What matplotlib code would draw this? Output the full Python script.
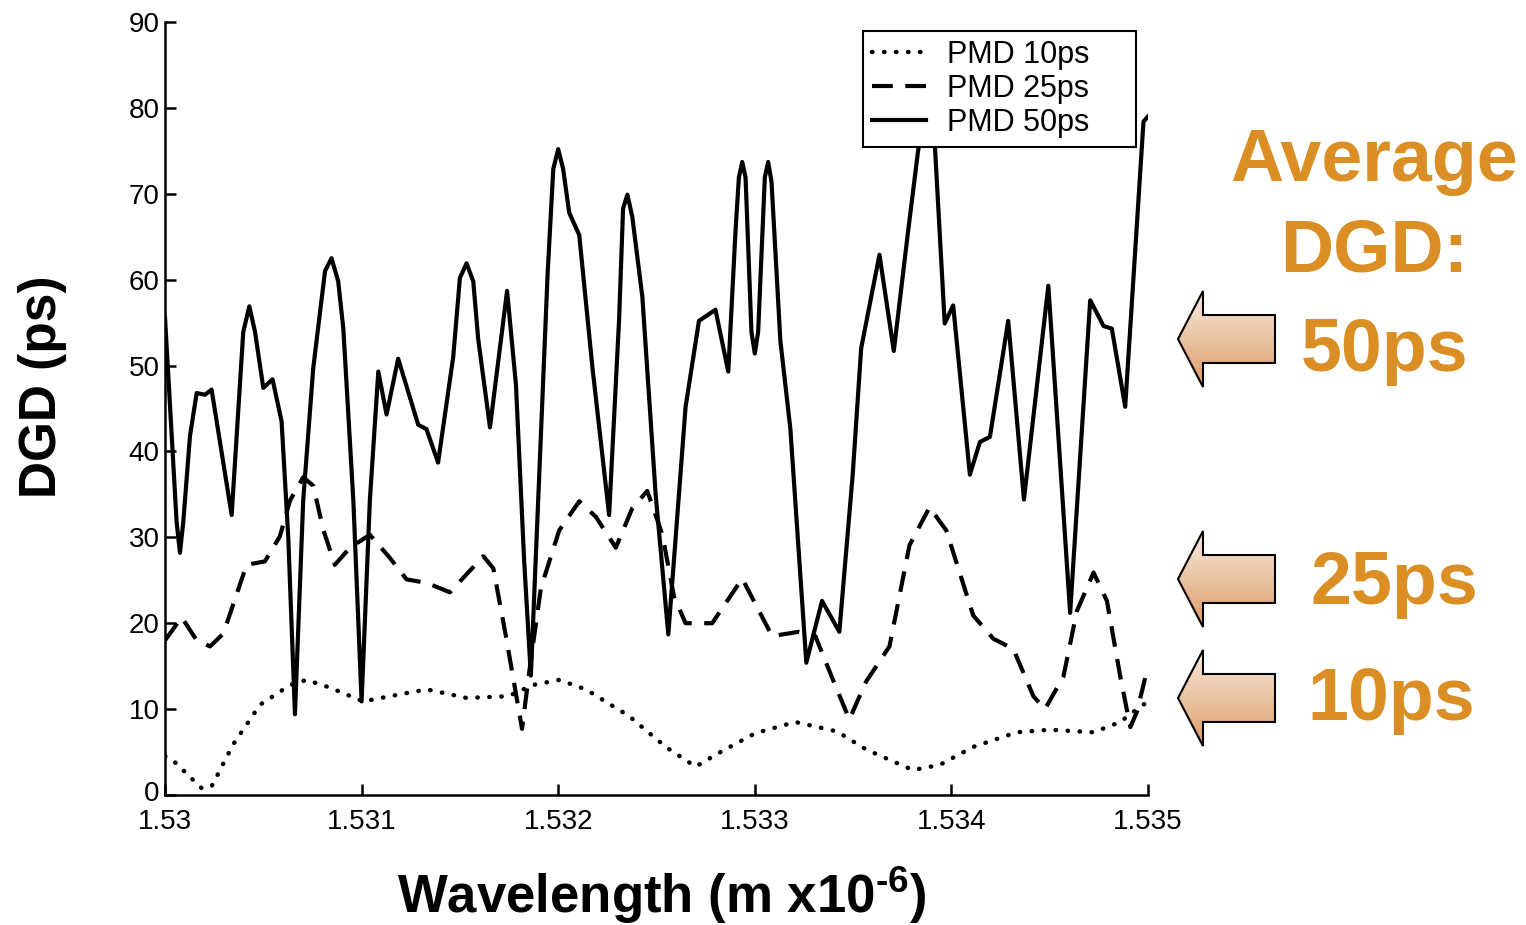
import numpy as np
import matplotlib.pyplot as plt
from matplotlib.patches import Polygon
from matplotlib.colors import LinearSegmentedColormap
from matplotlib.transforms import ScaledTranslation

plt.rcParams['font.family'] = ['Liberation Sans', 'DejaVu Sans']
plt.rcParams['mathtext.fontset'] = 'custom'
plt.rcParams['mathtext.rm'] = 'Liberation Sans:bold'
plt.rcParams['mathtext.bf'] = 'Liberation Sans:bold'

# wavelength in units of 1e-6 m, DGD in ps
wl_10 = [1.530000, 1.530042, 1.530186, 1.530237, 1.530347, 1.530483, 1.530636,
         1.530720, 1.530839, 1.531008, 1.531144, 1.531331, 1.531534, 1.531746,
         1.531870, 1.532005, 1.532140, 1.532360, 1.532547, 1.532699, 1.532817,
         1.533003, 1.533206, 1.533418, 1.533566, 1.533804, 1.533940, 1.534111,
         1.534332, 1.534502, 1.534723, 1.534859, 1.534927, 1.535000]
dgd_10 = [4.5, 4.0, 0.8, 1.0, 5.9, 10.5, 12.8,
          13.4, 12.5, 10.9, 11.5, 12.3, 11.3, 11.5,
          12.8, 13.4, 12.3, 9.2, 5.6, 3.3, 4.9,
          7.2, 8.5, 7.4, 5.3, 2.9, 3.5, 5.6,
          7.3, 7.6, 7.3, 8.5, 9.7, 10.9]

wl_25 = [1.530000, 1.530085, 1.530161, 1.530229, 1.530297, 1.530347, 1.530415,
         1.530508, 1.530584, 1.530636, 1.530703, 1.530754, 1.530805, 1.530864,
         1.530941, 1.531042, 1.531144, 1.531229, 1.531331, 1.531449, 1.531619,
         1.531670, 1.531734, 1.531785, 1.531816, 1.531853, 1.531912, 1.532005,
         1.532107, 1.532191, 1.532293, 1.532377, 1.532453, 1.532530, 1.532589,
         1.532648, 1.532783, 1.532936, 1.533088, 1.533223, 1.533308, 1.533396,
         1.533481, 1.533566, 1.533685, 1.533787, 1.533889, 1.533974, 1.534111,
         1.534213, 1.534315, 1.534417, 1.534476, 1.534570, 1.534638, 1.534723,
         1.534791, 1.534859, 1.534910, 1.534944, 1.535000]
dgd_25 = [18.0, 20.7, 18.0, 17.3, 18.8, 22.2, 26.8,
          27.2, 30.1, 34.3, 37.0, 36.0, 30.9, 26.8,
          28.8, 30.3, 27.6, 25.1, 24.7, 23.6, 27.8,
          26.4, 18.5, 11.8, 7.7, 14.4, 24.1, 30.8,
          34.2, 32.4, 28.8, 33.4, 35.4, 30.3, 23.1,
          20.0, 20.0, 25.2, 18.5, 19.0, 18.5, 13.5,
          8.8, 13.2, 17.3, 29.1, 33.5, 30.8, 20.9,
          18.2, 17.0, 11.5, 10.0, 13.8, 21.4, 25.9,
          22.6, 13.8, 7.9, 9.7, 15.0]

wl_50 = [1.530000, 1.530059, 1.530076, 1.530093, 1.530127, 1.530161, 1.530203,
         1.530237, 1.530339, 1.530398, 1.530429, 1.530458, 1.530500, 1.530547,
         1.530593, 1.530627, 1.530661, 1.530703, 1.530754, 1.530814, 1.530847,
         1.530881, 1.530907, 1.530958, 1.531000, 1.531042, 1.531085, 1.531127,
         1.531186, 1.531288, 1.531330, 1.531389, 1.531466, 1.531500, 1.531534,
         1.531568, 1.531593, 1.531653, 1.531740, 1.531785, 1.531827, 1.531861,
         1.531904, 1.531946, 1.531975, 1.532000, 1.532025, 1.532056, 1.532107,
         1.532174, 1.532259, 1.532310, 1.532330, 1.532352, 1.532377, 1.532428,
         1.532496, 1.532560, 1.532648, 1.532716, 1.532800, 1.532865, 1.532902,
         1.532919, 1.532936, 1.532953, 1.532983, 1.533000, 1.533017, 1.533051,
         1.533068, 1.533085, 1.533130, 1.533181, 1.533262, 1.533342, 1.533430,
         1.533498, 1.533541, 1.533634, 1.533707, 1.533779, 1.533830, 1.533880,
         1.533915, 1.533966, 1.534009, 1.534094, 1.534145, 1.534196, 1.534289,
         1.534369, 1.534493, 1.534604, 1.534706, 1.534774, 1.534816, 1.534884,
         1.534977, 1.535000]
dgd_50 = [55.6, 31.8, 28.2, 31.8, 41.8, 46.8, 46.6,
          47.2, 32.6, 53.9, 56.9, 53.9, 47.4, 48.4,
          43.5, 30.0, 9.4, 34.3, 49.7, 61.0, 62.5,
          59.8, 54.3, 34.3, 10.9, 34.3, 49.3, 44.3,
          50.8, 43.1, 42.6, 38.7, 51.0, 60.2, 61.9,
          59.8, 53.1, 42.8, 58.7, 47.8, 27.2, 13.9,
          37.5, 60.6, 72.9, 75.2, 72.9, 67.8, 65.2,
          49.8, 32.6, 55.5, 68.3, 69.9, 67.3, 58.0,
          34.9, 18.7, 45.2, 55.2, 56.5, 49.3, 65.7,
          71.9, 73.7, 71.9, 53.9, 51.4, 53.9, 71.9,
          73.7, 71.4, 52.9, 42.6, 15.4, 22.6, 19.0,
          37.3, 52.0, 62.9, 51.7, 65.5, 74.9, 82.0,
          76.0, 54.9, 57.0, 37.3, 41.1, 41.7, 55.2,
          34.4, 59.3, 21.2, 57.6, 54.6, 54.3, 45.2,
          78.4, 79.0]

x_ticks = [1.530, 1.531, 1.532, 1.533, 1.534, 1.535]
x_tick_labels = ['1.53', '1.531', '1.532', '1.533', '1.534', '1.535']
y_ticks = [0, 10, 20, 30, 40, 50, 60, 70, 80, 90]

notes = ['Average', 'DGD:', '50ps', '25ps', '10ps']
orange = '#DA8E24'

W, H = 1526, 925
fig = plt.figure(figsize=(W / 100, H / 100), dpi=100)
ax = fig.add_axes([165 / W, 1 - 795 / H, 983 / W, 773 / H])

ax.plot(wl_10, dgd_10, color='black', lw=3.2, linestyle=(0, (0.1, 2.6)),
        dash_capstyle='round', label='PMD 10ps')
ax.plot(wl_25, dgd_25, color='black', lw=3.0, linestyle=(0, (5, 3)),
        label='PMD 25ps')
ax.plot(wl_50, dgd_50, color='black', lw=3.0, solid_joinstyle='round',
        label='PMD 50ps')

ax.set_xlim(1.53, 1.535)
ax.set_ylim(0, 90)
ax.set_xticks(x_ticks)
ax.set_xticklabels(x_tick_labels)
ax.set_yticks(y_ticks)

for side in ['top', 'right']:
    ax.spines[side].set_visible(False)
for side in ['left', 'bottom']:
    ax.spines[side].set_linewidth(1.8)

ax.tick_params(direction='in', length=8, width=1.8, labelsize=20)
ax.tick_params(axis='x', pad=10)
ax.tick_params(axis='y', pad=4)
# nudge the "0" up a few pixels so it clears "1.53"
zero_lbl = ax.get_yticklabels()[0]
zero_lbl.set_transform(zero_lbl.get_transform() + ScaledTranslation(0, 4 / 100, fig.dpi_scale_trans))

ax.set_xlabel(r'Wavelength (m x10$^{\text{-6}}$)', fontsize=38, fontweight='bold', va='top')
ax.xaxis.set_label_coords(0.505, -0.09)
ax.set_ylabel('DGD (ps)', fontsize=37, fontweight='bold')
ax.yaxis.set_label_coords(-0.1, 0.528)

leg = ax.legend(loc='upper left',
                bbox_to_anchor=(863 / W, 1 - 143 / H, 273 / W, 112 / H),
                bbox_transform=fig.transFigure, mode='expand',
                prop={'size': 22}, fancybox=False, framealpha=1,
                edgecolor='black', handlelength=1.75, handletextpad=0.7,
                labelspacing=0.12, borderpad=0.3, borderaxespad=0)
leg.get_frame().set_linewidth(1.5)

# annotation layer in pixel coordinates
ov = fig.add_axes([0, 0, 1, 1])
ov.set_xlim(0, W)
ov.set_ylim(H, 0)
ov.axis('off')

cmap = LinearSegmentedColormap.from_list('peach', ['#F8EADF', '#DC9C66'])
grad = np.linspace(0, 1, 256).reshape(-1, 1)
for tip_y in [339, 579, 698]:
    pts = [(1178, tip_y), (1203, tip_y - 48), (1203, tip_y - 24), (1275, tip_y - 24),
           (1275, tip_y + 24), (1203, tip_y + 24), (1203, tip_y + 48)]
    poly = Polygon(pts, closed=True, facecolor='none', edgecolor='black', lw=1.5, zorder=3)
    ov.add_patch(poly)
    im = ov.imshow(grad, extent=(1178, 1275, tip_y + 48, tip_y - 48), cmap=cmap,
                   aspect='auto', origin='upper', zorder=2)
    im.set_clip_path(poly)

note_pos = [(1374, 181), (1374, 271), (1385, 371), (1394, 604), (1391, 720)]
for txt, (x, y) in zip(notes, note_pos):
    ov.text(x, y, txt, ha='center', va='baseline', fontsize=53,
            fontweight='bold', color=orange)

ov.set_xlim(0, W)
ov.set_ylim(H, 0)

fig.savefig('out.png', dpi=100, facecolor='white')
